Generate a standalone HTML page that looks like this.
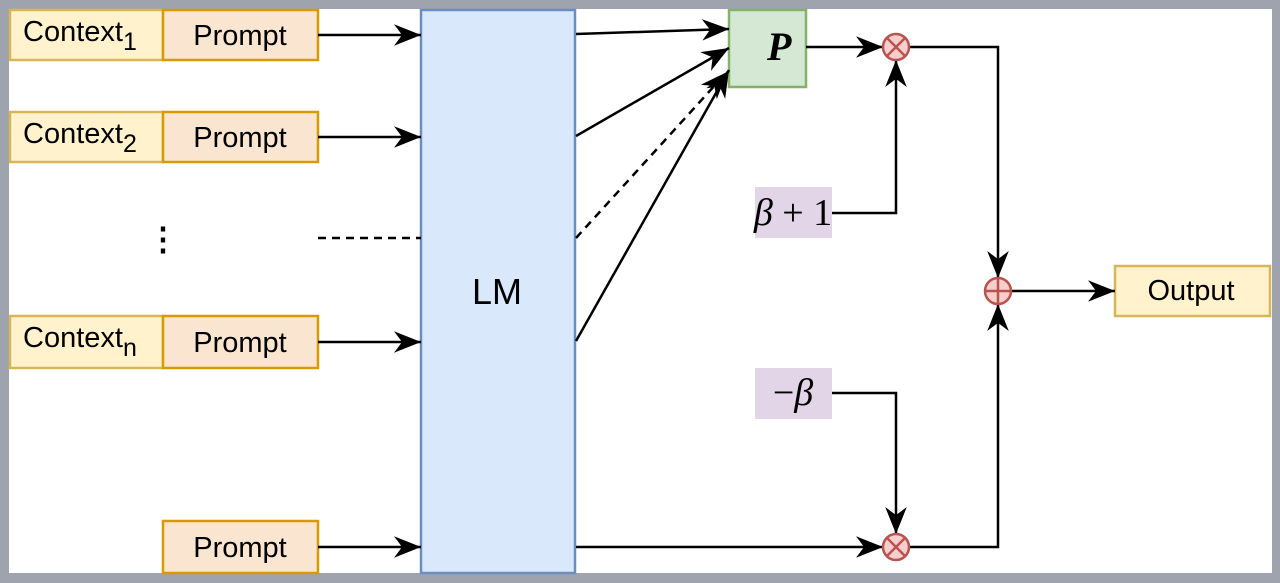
<!DOCTYPE html>
<html><head><meta charset="utf-8"><style>
html,body{margin:0;padding:0;background:#9ea3ad;}
svg{display:block}
text{font-family:"Liberation Sans",sans-serif;fill:#000}
.m{font-family:"Liberation Serif",serif;font-style:italic}
</style></head><body>
<svg width="1280" height="583" viewBox="0 0 1280 583" xmlns="http://www.w3.org/2000/svg">
<defs>
<marker id="b" viewBox="0 0 10 10" refX="10" refY="5" markerWidth="27" markerHeight="27" orient="auto" markerUnits="userSpaceOnUse">
<path d="M0,1 L10,5 L0,9 L3,5 Z" fill="#000"/></marker>
</defs>
<rect x="9" y="9" width="1263" height="564" fill="#fff"/>
<g stroke-width="2.5">
<rect x="10" y="10" width="153" height="50" fill="#fff2cc" stroke="#d6b656"/>
<rect x="163" y="10" width="155" height="50" fill="#fae5d0" stroke="#d79b00"/>
<rect x="10" y="112" width="153" height="50" fill="#fff2cc" stroke="#d6b656"/>
<rect x="163" y="112" width="155" height="50" fill="#fae5d0" stroke="#d79b00"/>
<rect x="10" y="316" width="153" height="52" fill="#fff2cc" stroke="#d6b656"/>
<rect x="163" y="316" width="155" height="52" fill="#fae5d0" stroke="#d79b00"/>
<rect x="163" y="521" width="155" height="52" fill="#fae5d0" stroke="#d79b00"/>
<rect x="421" y="10" width="154" height="563" fill="#dae8fc" stroke="#6c8ebf"/>
<rect x="729" y="10" width="77" height="77" fill="#d5e8d4" stroke="#82b366"/>
<rect x="1115" y="266" width="155" height="50" fill="#fff2cc" stroke="#d6b656"/>
</g>
<rect x="755" y="187" width="77" height="51" fill="#e1d5e7"/>
<rect x="755" y="368" width="77" height="51" fill="#e1d5e7"/>
<g stroke="#000" stroke-width="2.5" fill="none">
<line x1="318" y1="35" x2="421" y2="35" marker-end="url(#b)"/>
<line x1="318" y1="137" x2="421" y2="137" marker-end="url(#b)"/>
<line x1="318" y1="238" x2="421" y2="238" stroke-dasharray="8,6"/>
<line x1="318" y1="342" x2="421" y2="342" marker-end="url(#b)"/>
<line x1="318" y1="547" x2="421" y2="547" marker-end="url(#b)"/>
<line x1="576" y1="34" x2="729" y2="29" marker-end="url(#b)"/>
<line x1="576" y1="136" x2="729" y2="48" marker-end="url(#b)"/>
<line x1="576" y1="238" x2="727" y2="72" stroke-dasharray="8,6" marker-end="url(#b)"/>
<line x1="576" y1="341" x2="729" y2="70" marker-end="url(#b)"/>
<line x1="806" y1="47" x2="883" y2="47" marker-end="url(#b)"/>
<polyline points="832,213 896,213 896,60" marker-end="url(#b)"/>
<polyline points="909,47 998,47 998,278" marker-end="url(#b)"/>
<polyline points="832,393 896,393 896,534" marker-end="url(#b)"/>
<line x1="576" y1="547" x2="883" y2="547" marker-end="url(#b)"/>
<polyline points="909,547 998,547 998,304" marker-end="url(#b)"/>
<line x1="1011" y1="291" x2="1115" y2="291" marker-end="url(#b)"/>
</g>
<g stroke="#b85450" stroke-width="2.5" fill="#f8cecc">
<circle cx="896" cy="47" r="13"/>
<line x1="887" y1="38" x2="905" y2="56"/><line x1="905" y1="38" x2="887" y2="56"/>
<circle cx="896" cy="547" r="13"/>
<line x1="887" y1="538" x2="905" y2="556"/><line x1="905" y1="538" x2="887" y2="556"/>
<circle cx="998" cy="291" r="13"/>
<line x1="985" y1="291" x2="1011" y2="291"/><line x1="998" y1="278" x2="998" y2="304"/>
</g>
<g font-size="29">
<text x="23" y="41">Context<tspan font-size="25" dy="9">1</tspan></text>
<text x="23" y="143">Context<tspan font-size="25" dy="9">2</tspan></text>
<text x="23" y="347">Context<tspan font-size="25" dy="9">n</tspan></text>
<text x="240" y="45" text-anchor="middle">Prompt</text>
<text x="240" y="147" text-anchor="middle">Prompt</text>
<text x="240" y="352" text-anchor="middle">Prompt</text>
<text x="240" y="557" text-anchor="middle">Prompt</text>
<text x="1191" y="300" text-anchor="middle">Output</text>
<text x="497" y="304" text-anchor="middle" font-size="36">LM</text>
</g>
<text x="163" y="250" text-anchor="middle" font-size="32" font-weight="bold">⋮</text>
<text x="767" y="60" font-size="40" font-weight="bold" class="m">P</text>
<text x="793" y="225" text-anchor="middle" font-size="38" class="m">β<tspan font-style="normal"> + 1</tspan></text>
<text x="793" y="405" text-anchor="middle" font-size="38" class="m"><tspan font-style="normal">−</tspan>β</text>
</svg>
</body></html>
